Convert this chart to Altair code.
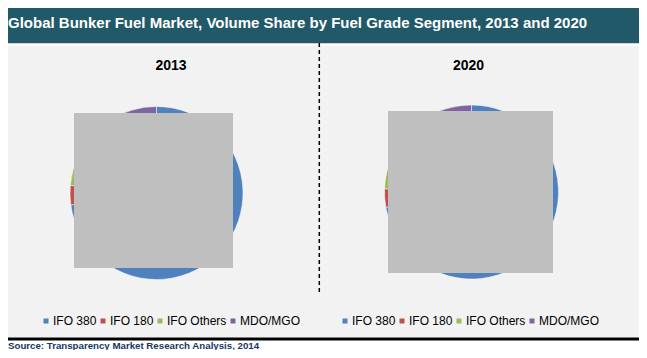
import altair as alt
import pandas as pd

# ---- data -------------------------------------------------------------
categories = ["IFO 380", "IFO 180", "IFO Others", "MDO/MGO"]
colors = ["#4F81BD", "#C0504D", "#9BBB59", "#8064A2"]
share_2013 = [72.8, 3.6, 5.5, 18.1]
share_2020 = [72.2, 3.4, 6.0, 18.4]
years = ["2013", "2020"]
title_text = "Global Bunker Fuel Market, Volume Share by Fuel Grade Segment, 2013 and 2020"
source_text = "Source: Transparency Market Research Analysis, 2014"

# ---- layout -----------------------------------------------------------
W, H = 631, 342
FONT = "Liberation Sans"

one = alt.Chart(pd.DataFrame({"k": [0]}))


def pie_df(vals):
    return pd.DataFrame({"segment": categories, "share": vals, "order": list(range(len(categories)))})


def pie(vals, cx, cy, r, lx, ly):
    return alt.Chart(pie_df(vals)).mark_arc(radius=r, stroke="white", strokeWidth=0.5).encode(
        theta=alt.Theta("share:Q", stack=True),
        order=alt.Order("order:Q"),
        color=alt.Color(
            "segment:N",
            scale=alt.Scale(domain=categories, range=colors),
            legend=alt.Legend(
                orient="none", legendX=lx, legendY=ly, direction="horizontal",
                title=None, symbolType="square", symbolSize=25, symbolStrokeWidth=0,
                labelFontSize=12, labelFont=FONT, labelColor="#000000",
                labelOffset=1, columnPadding=0, padding=0,
            ),
        ),
        x=alt.value(cx),
        y=alt.value(cy),
    )


title_bar = one.mark_rect(color="#215968").encode(
    x=alt.value(0), x2=alt.value(W), y=alt.value(0), y2=alt.value(35.3))
panel_bg = one.mark_rect(color="#F2F2F2").encode(
    x=alt.value(0), x2=alt.value(W), y=alt.value(37.7), y2=alt.value(329.3))
bottom_line = one.mark_rule(color="#000000", strokeWidth=3).encode(
    x=alt.value(0), x2=alt.value(W), y=alt.value(331))
divider = one.mark_rule(color="#000000", strokeWidth=1.5, strokeDash=[4, 3]).encode(
    x=alt.value(311.3), y=alt.value(35), y2=alt.value(285))
title = one.mark_text(text=title_text, align="left", baseline="alphabetic", font=FONT,
                      fontWeight="bold", fontSize=15, color="white").encode(
    x=alt.value(0), y=alt.value(20))

pie1 = pie(share_2013, 148.5, 185, 86.5, 32, 307)
pie2 = pie(share_2020, 463.5, 184, 87, 331, 307)

cover1 = one.mark_rect(color="#BFBFBF").encode(
    x=alt.value(66), x2=alt.value(225), y=alt.value(105), y2=alt.value(260))
cover2 = one.mark_rect(color="#BFBFBF").encode(
    x=alt.value(380), x2=alt.value(545), y=alt.value(103), y2=alt.value(265))

year1 = one.mark_text(text=years[0], align="center", baseline="alphabetic", font=FONT,
                      fontWeight="bold", fontSize=14, color="#000000").encode(
    x=alt.value(163), y=alt.value(62))
year2 = one.mark_text(text=years[1], align="center", baseline="alphabetic", font=FONT,
                      fontWeight="bold", fontSize=14, color="#000000").encode(
    x=alt.value(460.5), y=alt.value(62))

source = one.mark_text(text=source_text, align="left", baseline="alphabetic", font=FONT,
                       fontWeight="bold", fontSize=9.7, color="#17375E").encode(
    x=alt.value(0), y=alt.value(341))

chart = alt.layer(
    title_bar, panel_bg, bottom_line, divider, title,
    pie1, pie2, cover1, cover2, year1, year2, source,
).resolve_scale(color="independent", theta="independent").resolve_legend(
    color="independent"
).properties(
    width=W, height=H, padding=0, autosize=alt.AutoSizeParams(type="none"),
    background="white",
).configure_view(stroke=None)

chart.save("out.html", embed_options={"renderer": "svg", "actions": False})
